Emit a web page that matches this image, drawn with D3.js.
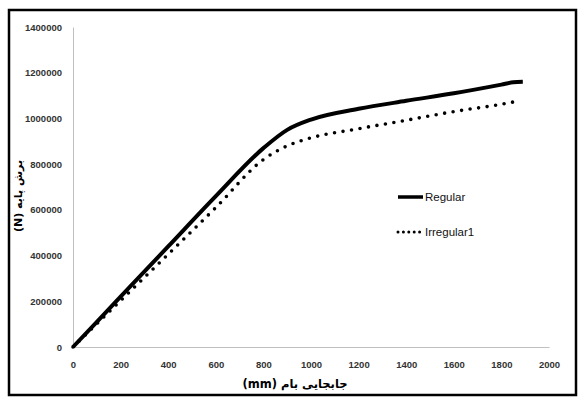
<!DOCTYPE html>
<html>
<head>
<meta charset="utf-8">
<script src="https://cdn.jsdelivr.net/npm/d3@7"></script>
<style>
  body { margin: 0; background: #fff; }
  svg text { font-family: "Liberation Sans", Arial, sans-serif; }
</style>
</head>
<body>
<div id="chart"></div>
<script>
// data (roof displacement mm vs base shear N)
const regularX = [0, 200, 400, 600, 800, 900, 1000, 1200, 1400, 1600, 1800, 1850, 1890];
const regularY = [0, 220000, 440000, 660000, 870000, 950000, 995000, 1042000, 1077000, 1110000, 1148000, 1158000, 1160000];
const irregX = [0, 200, 400, 600, 800, 900, 1000, 1200, 1400, 1600, 1800, 1870];
const irregY = [0, 203000, 406000, 610000, 820000, 880000, 915000, 955000, 992000, 1030000, 1062000, 1076000];
const xTicks = [0, 200, 400, 600, 800, 1000, 1200, 1400, 1600, 1800, 2000];
const yTicks = [0, 200000, 400000, 600000, 800000, 1000000, 1200000, 1400000];
const seriesNames = ["Regular", "Irregular1"];

const W = 583, H = 400;
const margin = {top: 27, right: 34, bottom: 53, left: 73};
const width = W - margin.left - margin.right,
    height = H - margin.top - margin.bottom;

const svg = d3.select("#chart").append("svg")
  .attr("width", W)
  .attr("height", H);

// outer frame
svg.append("rect")
  .attr("x", 9).attr("y", 10)
  .attr("width", 567).attr("height", 385)
  .attr("fill", "none")
  .attr("stroke", "#000")
  .attr("stroke-width", 2.5);

const g = svg.append("g")
  .attr("transform", `translate(${margin.left},${margin.top})`);

const x = d3.scaleLinear().domain([0, 2000]).range([0, width]);
const y = d3.scaleLinear().domain([0, 1400000]).range([height, 0]);

// axes
const xAxis = g.append("g")
  .attr("transform", `translate(0,${height})`)
  .call(d3.axisBottom(x).tickValues(xTicks).tickSize(0).tickPadding(14).tickFormat(d3.format("d")));
const yAxis = g.append("g")
  .call(d3.axisLeft(y).tickValues(yTicks).tickSize(0).tickPadding(11).tickFormat(d3.format("d")));

[xAxis, yAxis].forEach(a => {
  a.select(".domain").attr("stroke", "#c0c0c0").attr("stroke-width", 1);
  a.selectAll("text")
    .attr("fill", "#333")
    .style("font-size", "9.5px")
    .style("font-weight", "bold");
});

const line = d3.line()
  .x(d => x(d[0]))
  .y(d => y(d[1]))
  .curve(d3.curveMonotoneX);

const regular = regularX.map((v, i) => [v, regularY[i]]);
const irregular = irregX.map((v, i) => [v, irregY[i]]);

g.append("path")
  .datum(irregular)
  .attr("d", line)
  .attr("fill", "none")
  .attr("stroke", "#000")
  .attr("stroke-width", 3.6)
  .attr("stroke-linecap", "round")
  .attr("stroke-dasharray", "0 8.6");

g.append("path")
  .datum(regular)
  .attr("d", line)
  .attr("fill", "none")
  .attr("stroke", "#000")
  .attr("stroke-width", 4);

// legend
const legend = svg.append("g").attr("transform", "translate(398,197)");
const legItem = legend.selectAll("g")
  .data(seriesNames)
  .enter()
  .append("g")
  .attr("transform", (d, i) => `translate(0,${i * 35})`);

legItem.append("line")
  .attr("x1", 0).attr("x2", 25)
  .attr("y1", 0).attr("y2", 0)
  .attr("stroke", "#000")
  .attr("stroke-width", (d, i) => i === 0 ? 3.5 : 3)
  .attr("stroke-linecap", (d, i) => i === 0 ? "butt" : "round")
  .attr("stroke-dasharray", (d, i) => i === 0 ? null : "0 5.4");

legItem.append("text")
  .attr("x", 27)
  .attr("y", 4)
  .style("font-size", "11.5px")
  .attr("fill", "#111")
  .text(d => d);

// axis titles
svg.append("text")
  .attr("x", 295)
  .attr("y", 388)
  .attr("text-anchor", "middle")
  .style("font-family", "'DejaVu Sans', sans-serif")
  .style("font-size", "11.5px")
  .style("font-weight", "bold")
  .text("(mm)  جابجایی بام");

svg.append("text")
  .attr("transform", "translate(22,196) rotate(-90)")
  .attr("text-anchor", "middle")
  .style("font-family", "'DejaVu Sans', sans-serif")
  .style("font-size", "11px")
  .style("font-weight", "bold")
  .text("(N) برش پایه");
</script>
</body>
</html>
